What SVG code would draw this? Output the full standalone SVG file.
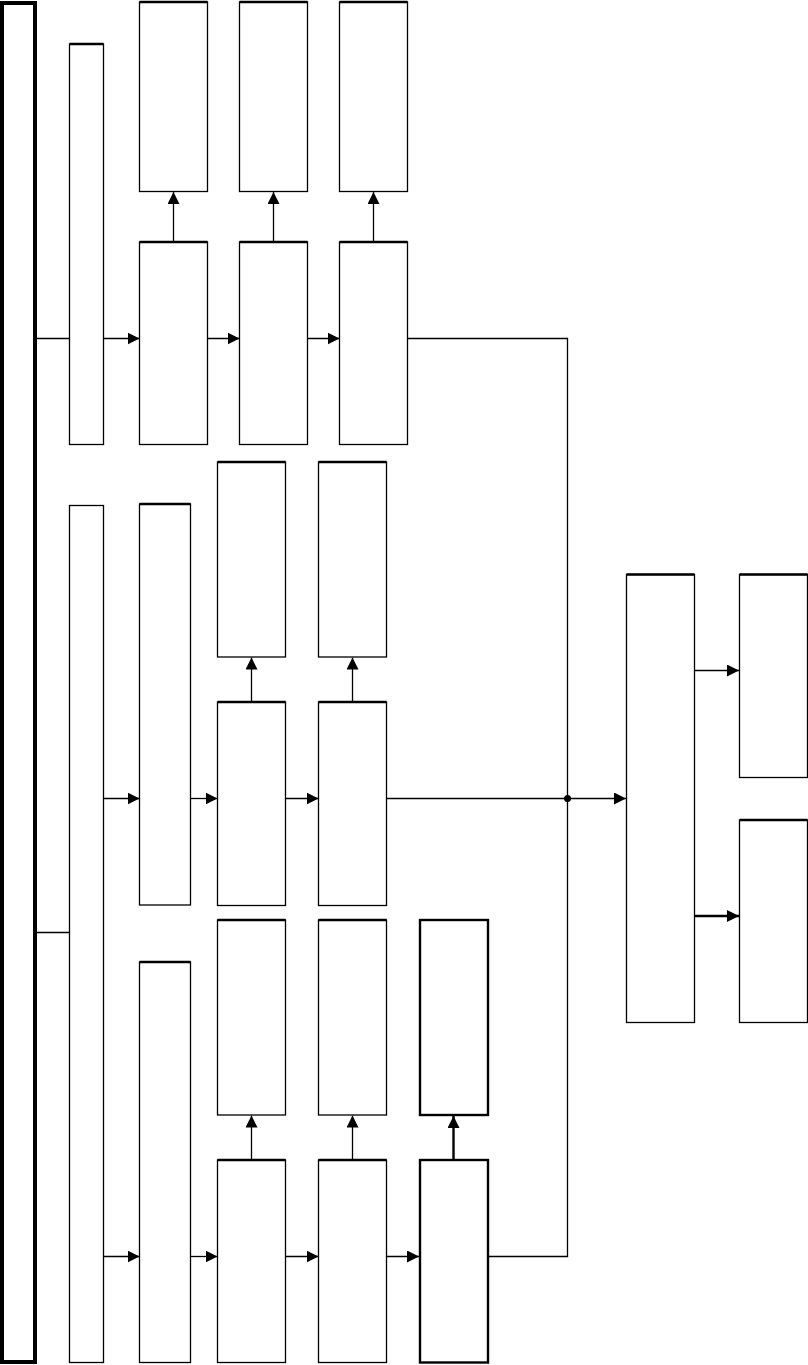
<svg xmlns="http://www.w3.org/2000/svg" width="808" height="1365" viewBox="0 0 808 1365">
<style>
rect{fill:#fff;stroke:#000;stroke-width:1.3}
rect.bg{stroke:none}
.top{stroke:#000;stroke-width:2.4;fill:none}
.thick{stroke-width:2.4}
.c{fill:none;stroke:#000;stroke-width:1.3}
.ct{fill:none;stroke:#000;stroke-width:2.4}
</style>
<defs>
<marker id="ah" markerUnits="userSpaceOnUse" markerWidth="12" markerHeight="12" refX="12" refY="6" orient="auto">
<path d="M0,0 L12,6 L0,12 z" fill="#000"/>
</marker>
</defs>
<rect class="bg" width="808" height="1365"/>
<g id="outer"><rect x="2" y="3" width="33" height="1359" style="stroke-width:4"/></g>
<g id="colA"><rect x="69.5" y="44" width="34" height="400.5"/><path class="top" d="M69.5 44H103.5"/></g>
<g id="colB"><rect x="69.5" y="505.5" width="34" height="857"/></g>

<g id="r1t1"><rect x="139.5" y="2" width="68" height="189.5"/><path class="top" d="M139.5 2H207.5"/></g>
<g id="r1t2"><rect x="239.5" y="2" width="68" height="189.5"/><path class="top" d="M239.5 2H307.5"/></g>
<g id="r1t3"><rect x="339.5" y="2" width="68" height="189.5"/><path class="top" d="M339.5 2H407.5"/></g>
<g id="r1b1"><rect x="139.5" y="242" width="68" height="202.5"/><path class="top" d="M139.5 242H207.5"/></g>
<g id="r1b2"><rect x="239.5" y="242" width="68" height="202.5"/><path class="top" d="M239.5 242H307.5"/></g>
<g id="r1b3"><rect x="339.5" y="242" width="68" height="202.5"/><path class="top" d="M339.5 242H407.5"/></g>

<g id="s2m"><rect x="139.5" y="504" width="51" height="401"/><path class="top" d="M139.5 504H190.5"/></g>
<g id="s2t1"><rect x="217.5" y="462" width="68" height="195"/><path class="top" d="M217.5 462H285.5"/></g>
<g id="s2t2"><rect x="318.5" y="462" width="68" height="195"/><path class="top" d="M318.5 462H386.5"/></g>
<g id="s2b1"><rect x="217.5" y="702" width="68" height="203.5"/><path class="top" d="M217.5 702H285.5"/></g>
<g id="s2b2"><rect x="318.5" y="702" width="68" height="203.5"/><path class="top" d="M318.5 702H386.5"/></g>

<g id="s3m"><rect x="139.5" y="962" width="51" height="400.5"/><path class="top" d="M139.5 962H190.5"/></g>
<g id="s3t1"><rect x="217.5" y="920" width="68" height="195"/><path class="top" d="M217.5 920H285.5"/></g>
<g id="s3t2"><rect x="318.5" y="920" width="68" height="195"/><path class="top" d="M318.5 920H386.5"/></g>
<g id="s3t3"><rect class="thick" x="420" y="920" width="68" height="195"/></g>
<g id="s3b1"><rect x="217.5" y="1160" width="68" height="202.5"/><path class="top" d="M217.5 1160H285.5"/></g>
<g id="s3b2"><rect x="318.5" y="1160" width="68" height="202.5"/><path class="top" d="M318.5 1160H386.5"/></g>
<g id="s3b3"><rect class="thick" x="420" y="1160" width="68" height="202.5"/></g>

<g id="rc"><rect x="626.5" y="574.5" width="68" height="448"/><path class="top" d="M626.5 574.5H694.5"/></g>
<g id="rr1"><rect x="739.5" y="574.5" width="68" height="203"/><path class="top" d="M739.5 574.5H807.5"/></g>
<g id="rr2"><rect x="739.5" y="820" width="68" height="202.5"/><path class="top" d="M739.5 820H807.5"/></g>

<g id="connectors">
<path class="c" d="M37 338.5H69.5"/>
<path class="c" d="M103.5 338.5H139.5" marker-end="url(#ah)"/>
<path class="c" d="M207.5 338.5H239.5" marker-end="url(#ah)"/>
<path class="c" d="M307.5 338.5H339.5" marker-end="url(#ah)"/>
<path class="c" d="M407.5 338.5H567.5V1256.5H488"/>
<path class="c" d="M173.5 241V192" marker-end="url(#ah)"/>
<path class="c" d="M273.5 241V192" marker-end="url(#ah)"/>
<path class="c" d="M373.5 241V192" marker-end="url(#ah)"/>

<path class="c" d="M37 932.5H69.5"/>
<path class="c" d="M103.5 798.5H139.5" marker-end="url(#ah)"/>
<path class="c" d="M190.5 798.5H217.5" marker-end="url(#ah)"/>
<path class="c" d="M285.5 798.5H318.5" marker-end="url(#ah)"/>
<path class="c" d="M386.5 798.5H626" marker-end="url(#ah)"/>
<circle cx="567.5" cy="798.5" r="3.5" fill="#000"/>
<path class="c" d="M251.5 701V657.5" marker-end="url(#ah)"/>
<path class="c" d="M352.5 701V657.5" marker-end="url(#ah)"/>

<path class="c" d="M103.5 1256.5H139.5" marker-end="url(#ah)"/>
<path class="c" d="M190.5 1256.5H217.5" marker-end="url(#ah)"/>
<path class="c" d="M285.5 1256.5H318.5" marker-end="url(#ah)"/>
<path class="c" d="M386.5 1256.5H419" marker-end="url(#ah)"/>
<path class="c" d="M251.5 1159V1115.5" marker-end="url(#ah)"/>
<path class="c" d="M352.5 1159V1115.5" marker-end="url(#ah)"/>
<path class="ct" d="M453.5 1159V1116" marker-end="url(#ah)"/>

<path class="c" d="M694.5 670.5H739" marker-end="url(#ah)"/>
<path class="ct" d="M694.5 916H739" marker-end="url(#ah)"/>
</g>
</svg>
